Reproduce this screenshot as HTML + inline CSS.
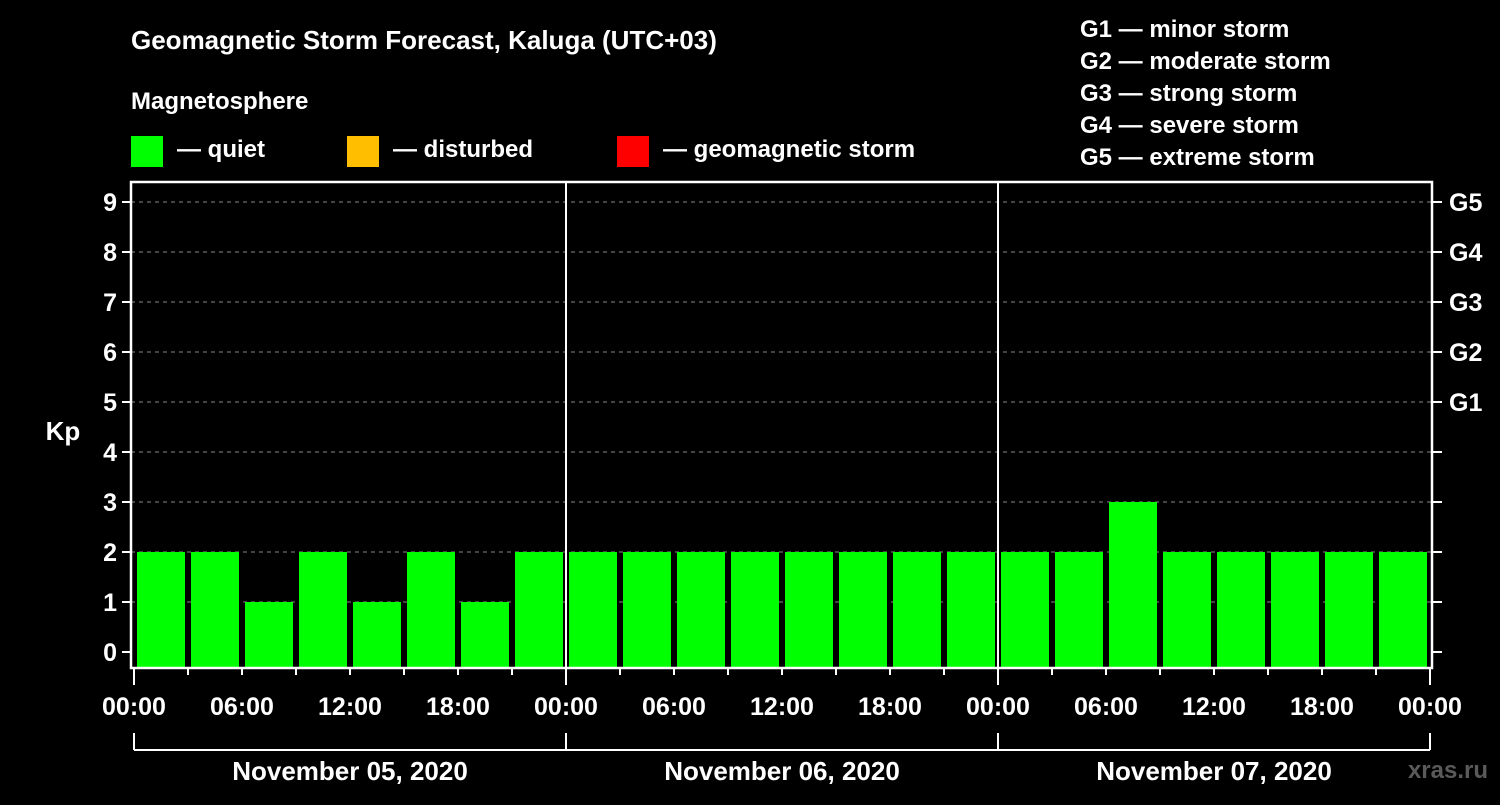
<!DOCTYPE html>
<html><head><meta charset="utf-8"><style>
body{margin:0;background:#000;width:1500px;height:800px;overflow:hidden}
svg text{font-family:"Liberation Sans",Arial,sans-serif;font-weight:bold;fill:#fff}
</style></head><body>
<svg id="c" width="1500" height="800" xmlns="http://www.w3.org/2000/svg">
<text x="131" y="49" font-size="26">Geomagnetic Storm Forecast, Kaluga (UTC+03)</text>
<text x="131" y="109" font-size="24">Magnetosphere</text>
<rect x="131" y="136" width="32" height="31" fill="#00ff00"/>
<text x="177" y="157" font-size="24">— quiet</text>
<rect x="347" y="136" width="32" height="31" fill="#ffbf00"/>
<text x="393" y="157" font-size="24">— disturbed</text>
<rect x="617" y="136" width="32" height="31" fill="#ff0000"/>
<text x="663" y="157" font-size="24">— geomagnetic storm</text>
<g font-size="24">
<text x="1080" y="37">G1 — minor storm</text>
<text x="1080" y="69">G2 — moderate storm</text>
<text x="1080" y="101">G3 — strong storm</text>
<text x="1080" y="133">G4 — severe storm</text>
<text x="1080" y="165">G5 — extreme storm</text>
</g>
<text x="63" y="440" font-size="26" text-anchor="middle">Kp</text>
<text x="1488" y="778" font-size="24" text-anchor="end" fill="#555" style="fill:#5a5a5a">xras.ru</text>
<g id="plot"></g>
</svg>
<script>
const days=["November 05, 2020","November 06, 2020","November 07, 2020"];
const kpValues=[2,2,1,2,1,2,1,2, 2,2,2,2,2,2,2,2, 2,2,3,2,2,2,2,2];
const yTicks=[0,1,2,3,4,5,6,7,8,9];
const gLabels={5:"G1",6:"G2",7:"G3",8:"G4",9:"G5"};
const timeLabels=["00:00","06:00","12:00","18:00"];
const NS="http://www.w3.org/2000/svg";
const g=document.getElementById('plot');
const L=131,R=1432,T=182,B=668,X0=134,X1=1430;
const x=h=>X0+(X1-X0)*h/72;
const y=v=>652-50*v;
function mk(t,a){const e=document.createElementNS(NS,t);for(const k in a)e.setAttribute(k,a[k]);g.appendChild(e);return e;}
yTicks.forEach(v=>{
 if(v>0){const l=mk('line',{x1:L,x2:R,y1:y(v),y2:y(v),stroke:'#888','stroke-dasharray':'4,4','stroke-width':1});
 
 }
 mk('line',{x1:L-9,x2:L,y1:y(v),y2:y(v),stroke:'#fff','stroke-width':2});
 mk('line',{x1:R,x2:R+10,y1:y(v),y2:y(v),stroke:'#fff','stroke-width':2});
 const t=mk('text',{x:L-14,y:y(v)+9,'font-size':25,'text-anchor':'end'});t.textContent=v;
 
 
 if(gLabels[v]){const r=mk('text',{x:R+17,y:y(v)+9,'font-size':25});r.textContent=gLabels[v];
 
 }
});
kpValues.forEach((v,i)=>{
 const c=v>=5?'#ff0000':(v>=4?'#ffbf00':'#00ff00');
 const r=mk('rect',{x:x(i*3)+3,y:y(v),width:(X1-X0)/24-6,height:B-y(v),fill:c});
 
 
});
days.forEach((d,i)=>{
 if(i>0)mk('line',{x1:x(i*24),x2:x(i*24),y1:T,y2:B,stroke:'#fff','stroke-width':2});
 const t=mk('text',{x:(x(i*24)+x(i*24+24))/2,y:780,'font-size':26,'text-anchor':'middle'});t.textContent=d;
 
 
 mk('line',{x1:x(i*24),x2:x(i*24+24),y1:750,y2:750,stroke:'#fff','stroke-width':2});
});
for(let h=0;h<=72;h+=3){
 const big=h%24==0;
 mk('line',{x1:x(h),x2:x(h),y1:B,y2:B+(big?17:7),stroke:'#fff','stroke-width':2});
 if(big)mk('line',{x1:x(h),x2:x(h),y1:733,y2:750,stroke:'#fff','stroke-width':2});
 if(h%6==0){const t=mk('text',{x:x(h),y:715,'font-size':25,'text-anchor':'middle'});t.textContent=timeLabels[(h/6)%4];
 
 }
}
const f=mk('rect',{x:L,y:T,width:R-L,height:B-T,fill:'none',stroke:'#fff','stroke-width':2.5});


</script>
</body></html>
